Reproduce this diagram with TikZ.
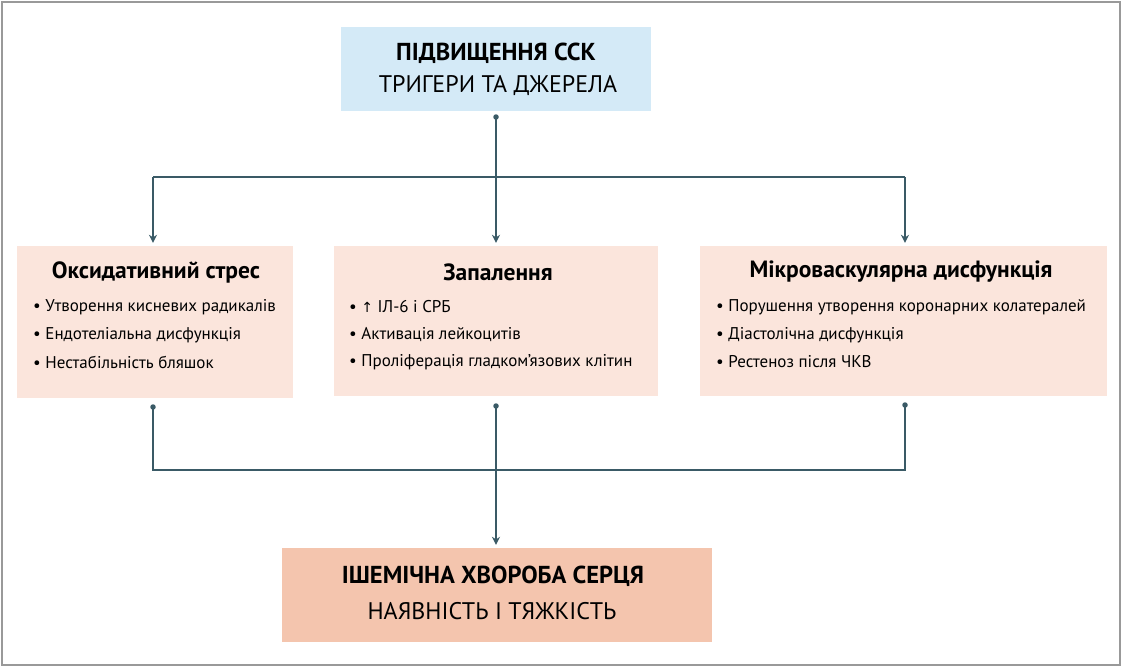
\documentclass[tikz,border=0pt]{standalone}
\usepackage{fontspec}
\setmainfont{PT Sans}
\newfontfamily\symf{DejaVu Sans}
\usetikzlibrary{arrows.meta}
\definecolor{lineC}{HTML}{3A5A66}
\definecolor{topC}{HTML}{D4EAF7}
\definecolor{midC}{HTML}{FBE5DC}
\definecolor{botC}{HTML}{F4C5AE}
\definecolor{frameC}{HTML}{999999}
\tikzset{
  box/.style={draw=none, inner sep=0pt},
  conn/.style={draw=lineC, line width=2.2pt},
  arr/.style={conn, -{Stealth[length=8pt,width=8pt]}},
  dotp/.style={circle, fill=lineC, inner sep=0pt, minimum size=5.5pt},
  ttl/.style={font=\bfseries\fontsize{24.5}{28}\selectfont},
  sub/.style={font=\fontsize{24}{28}\selectfont},
  head/.style={font=\bfseries\fontsize{23.5}{27}\selectfont},
  item/.style={anchor=west, font=\fontsize{17}{20}\selectfont, inner sep=0pt}
}
\begin{document}
\begin{tikzpicture}[x=1pt,y=-1pt]
\useasboundingbox (0,0) rectangle (1123,667);
\draw[frameC, line width=2.2pt] (2,2) rectangle (1120,665);

% boxes
\node[box, fill=topC, minimum width=310pt, minimum height=84pt] (top) at (496,69) {};
\node[box, fill=midC, minimum width=276pt, minimum height=152pt] (left) at (155,322) {};
\node[box, fill=midC, minimum width=324pt, minimum height=150pt] (mid) at (496,321) {};
\node[box, fill=midC, minimum width=407pt, minimum height=150pt] (right) at (903.5,321) {};
\node[box, fill=botC, minimum width=430pt, minimum height=94pt] (bot) at (497,595) {};

% texts
\node[ttl] (topt1) at (496,53) {ПІДВИЩЕННЯ ССК};
\node[sub] (topt2) at (498,86) {ТРИГЕРИ ТА ДЖЕРЕЛА};

\node[head] (lh) at (156,272) {Оксидативний стрес};
\node[item] (l1) at (33,307) {• Утворення кисневих радикалів};
\node[item] (l2) at (33,335) {• Ендотеліальна дисфункція};
\node[item] (l3) at (33,362) {• Нестабільність бляшок};

\node[head] (mh) at (498,272) {Запалення};
\node[item] (m1) at (349,307) {• {\symf\fontsize{14}{16}\selectfont ↑} ІЛ-6 і СРБ};
\node[item] (m2) at (349,335) {• Активація лейкоцитів};
\node[item] (m3) at (349,362) {• Проліферація гладком’язових клітин};

\node[head] (rh) at (901,272) {Мікроваскулярна дисфункція};
\node[item] (r1) at (716,307) {• Порушення утворення коронарних колатералей};
\node[item] (r2) at (716,335) {• Діастолічна дисфункція};
\node[item] (r3) at (716,362) {• Рестеноз після ЧКВ};

\node[ttl] (bt1) at (493,576) {ІШЕМІЧНА ХВОРОБА СЕРЦЯ};
\node[sub] (bt2) at (492,611) {НАЯВНІСТЬ І ТЯЖКІСТЬ};

% connector points
\node[dotp] (d0) at (496,117) {};
\coordinate (jt) at (496,177);
\coordinate (jtl) at (153,177);
\coordinate (jtr) at (905,177);
\node[dotp] (dl) at (153,407) {};
\node[dotp] (dm) at (496,406) {};
\node[dotp] (dr) at (905,405) {};
\coordinate (jb) at (496,470);
\coordinate (jbl) at (153,470);
\coordinate (jbr) at (905,470);

\draw[conn] (d0.center) -- (jt);
\draw[conn] (jtl) -- (jtr);
\draw[arr] (jtl) -- ([yshift=3pt]jtl |- left.north);
\draw[arr] (jt) -- ([yshift=3pt]jt |- mid.north);
\draw[arr] (jtr) -- ([yshift=3pt]jtr |- right.north);

\draw[conn] (dl.center) -- (jbl) -- (jbr) -- (dr.center);
\draw[arr] (dm.center) -- ([yshift=3pt]dm |- bot.north);
\end{tikzpicture}
\end{document}
